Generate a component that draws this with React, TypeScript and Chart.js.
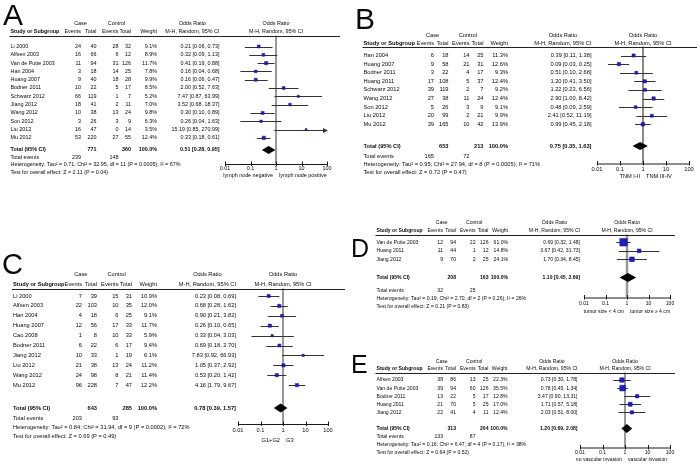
import React, { useEffect, useRef } from "react";
import { Chart, registerables } from "chart.js";

Chart.register(...registerables);

const W = 699;
const H = 466;
const FONT = '"Liberation Sans", Arial, Helvetica, sans-serif';

// ---------------- shared labels ----------------
const axisTicks = [0.01, 0.1, 1, 10, 100];
const axisTickLabels = ["0.01", "0.1", "1", "10", "100"];
const headerTop = ["Case", "Control", "Odds Ratio", "Odds Ratio"];
const headerCols = ["Study or Subgroup", "Events", "Total", "Events", "Total", "Weight", "M-H, Random, 95% CI", "M-H, Random, 95% CI"];

// ---------------- Panel A ----------------
const aStudies = ["Li 2000", "Alfsen 2003", "Van de Putte 2003", "Han 2004", "Huang 2007", "Bodner 2011", "Schwarz 2012", "Jiang 2012", "Wang 2012", "Son 2012", "Liu 2012", "Mu 2012"];
const aCaseEvents = [24, 16, 11, 3, 9, 10, 66, 18, 10, 3, 16, 53];
const aCaseTotal = [40, 66, 94, 18, 40, 22, 119, 41, 38, 26, 47, 220];
const aCtrlEvents = [28, 6, 31, 14, 18, 5, 1, 2, 13, 3, 0, 27];
const aCtrlTotal = [32, 12, 126, 25, 28, 17, 7, 11, 24, 9, 14, 55];
const aWeight = [9.1, 8.9, 11.7, 7.8, 9.9, 8.5, 5.2, 7.0, 9.8, 6.3, 3.5, 12.4];
const aOR = [0.21, 0.32, 0.41, 0.16, 0.16, 2.0, 7.47, 3.52, 0.3, 0.26, 15.19, 0.33];
const aLower = [0.06, 0.09, 0.19, 0.04, 0.06, 0.52, 0.87, 0.68, 0.1, 0.04, 0.85, 0.18];
const aUpper = [0.73, 1.13, 0.88, 0.68, 0.47, 7.63, 63.99, 18.37, 0.89, 1.63, 270.99, 0.61];
const aPooled = [0.51, 0.28, 0.95];
const aTotals = [771, 360];
const aTotalEvents = [239, 148];
const aHeterogeneity = "Heterogeneity: Tau\u00b2 = 0.71; Chi\u00b2 = 32.95, df = 11 (P = 0.0005); I\u00b2 = 67%";
const aOverall = "Test for overall effect: Z = 2.11 (P = 0.04)";
const aFavours = ["lymph node negative", "lymph node positive"];

// ---------------- Panel B ----------------
const bStudies = ["Han 2004", "Huang 2007", "Bodner 2011", "Huang 2011", "Schwarz 2012", "Wang 2012", "Son 2012", "Liu 2012", "Mu 2012"];
const bCaseEvents = [6, 9, 3, 17, 39, 27, 5, 20, 39];
const bCaseTotal = [18, 58, 22, 108, 119, 38, 26, 99, 165];
const bCtrlEvents = [14, 21, 4, 5, 2, 11, 3, 2, 10];
const bCtrlTotal = [25, 31, 17, 37, 7, 24, 9, 21, 42];
const bWeight = [11.3, 12.6, 9.3, 12.4, 9.2, 12.4, 9.1, 9.9, 13.9];
const bOR = [0.39, 0.09, 0.51, 1.2, 1.22, 2.9, 0.48, 2.41, 0.99];
const bLower = [0.11, 0.03, 0.1, 0.41, 0.23, 1.0, 0.09, 0.52, 0.45];
const bUpper = [1.38, 0.25, 2.68, 3.5, 6.56, 8.42, 2.59, 11.19, 2.18];
const bPooled = [0.75, 0.35, 1.63];
const bTotals = [653, 213];
const bTotalEvents = [165, 72];
const bHeterogeneity = "Heterogeneity: Tau\u00b2 = 0.95; Chi\u00b2 = 27.94, df = 8 (P = 0.0005); I\u00b2 = 71%";
const bOverall = "Test for overall effect: Z = 0.72 (P = 0.47)";
const bFavours = ["TNM I-II", "TNM III-IV"];

// ---------------- Panel C ----------------
const cStudies = ["Li 2000", "Alfsen 2003", "Han 2004", "Huang 2007", "Cao 2008", "Bodner 2011", "Jiang 2012", "Liu 2012", "Wang 2012", "Mu 2012"];
const cCaseEvents = [7, 22, 4, 12, 1, 6, 10, 21, 24, 96];
const cCaseTotal = [39, 103, 18, 56, 8, 22, 33, 38, 98, 228];
const cCtrlEvents = [15, 10, 6, 17, 10, 6, 1, 13, 8, 7];
const cCtrlTotal = [31, 35, 25, 33, 33, 17, 19, 24, 21, 47];
const cWeight = [10.9, 12.0, 9.1, 11.7, 5.9, 9.4, 6.1, 11.2, 11.4, 12.2];
const cOR = [0.23, 0.68, 0.9, 0.26, 0.33, 0.69, 7.83, 1.05, 0.53, 4.16];
const cLower = [0.08, 0.28, 0.21, 0.1, 0.04, 0.18, 0.92, 0.37, 0.2, 1.79];
const cUpper = [0.69, 1.62, 3.82, 0.65, 3.03, 2.7, 66.93, 2.92, 1.42, 9.67];
const cPooled = [0.78, 0.39, 1.57];
const cTotals = [643, 285];
const cTotalEvents = [203, 93];
const cHeterogeneity = "Heterogeneity: Tau\u00b2 = 0.84; Chi\u00b2 = 31.94, df = 9 (P = 0.0002); I\u00b2 = 72%";
const cOverall = "Test for overall effect: Z = 0.69 (P = 0.49)";
const cFavours = ["G1+G2", "G3"];

// ---------------- Panel D ----------------
const dStudies = ["Van de Putte 2003", "Huang 2011", "Jiang 2012"];
const dCaseEvents = [12, 11, 9];
const dCaseTotal = [94, 44, 70];
const dCtrlEvents = [22, 1, 2];
const dCtrlTotal = [126, 12, 25];
const dWeight = [61.0, 14.8, 24.1];
const dOR = [0.69, 3.67, 1.7];
const dLower = [0.32, 0.42, 0.34];
const dUpper = [1.48, 31.73, 8.45];
const dPooled = [1.1, 0.45, 2.69];
const dTotals = [208, 163];
const dTotalEvents = [32, 25];
const dHeterogeneity = "Heterogeneity: Tau\u00b2 = 0.19; Chi\u00b2 = 2.70, df = 2 (P = 0.26); I\u00b2 = 26%";
const dOverall = "Test for overall effect: Z = 0.21 (P = 0.83)";
const dFavours = ["tumor size < 4 cm", "tumor size \u2265 4 cm"];

// ---------------- Panel E ----------------
const eStudies = ["Alfsen 2003", "Van de Putte 2003", "Bodner 2011", "Huang 2011", "Jiang 2012"];
const eCaseEvents = [38, 39, 13, 21, 22];
const eCaseTotal = [86, 94, 22, 70, 41];
const eCtrlEvents = [13, 60, 5, 5, 4];
const eCtrlTotal = [25, 126, 17, 25, 11];
const eWeight = [22.3, 35.5, 12.8, 17.0, 12.4];
const eOR = [0.73, 0.78, 3.47, 1.71, 2.03];
const eLower = [0.3, 0.45, 0.9, 0.57, 0.51];
const eUpper = [1.78, 1.34, 13.31, 5.18, 8.0];
const ePooled = [1.2, 0.69, 2.08];
const eTotals = [313, 204];
const eTotalEvents = [133, 87];
const eHeterogeneity = "Heterogeneity: Tau\u00b2 = 0.16; Chi\u00b2 = 6.47, df = 4 (P = 0.17); I\u00b2 = 38%";
const eOverall = "Test for overall effect: Z = 0.64 (P = 0.52)";
const eFavours = ["no vascular invasion", "vascular invasion"];

// ---------------- layouts (positions only) ----------------
type Layout = {
  letterX: number; letterY: number; letterSize: number; fs: number;
  left: number; cEv: number; cTot: number; kEv: number; kTot: number; wt: number; ci: number; right: number;
  plotL: number; plotR: number;
  h1: number; h2: number; rule: number; row0: number; step: number; total: number;
  events: number; het: number; test: number; axis: number; tickY: number; capY: number;
  vColor: string; vWidth: number; dh: number;
};

const layoutA: Layout = { letterX: 3, letterY: 25, letterSize: 30, fs: 5.4, left: 10.5, cEv: 81, cTot: 96.5, kEv: 118.5, kTot: 131, wt: 157, ci: 219.5, right: 340, plotL: 225, plotR: 327, h1: 24, h2: 32, rule: 35.7, row0: 46.5, step: 8.3, total: 150, events: 157.5, het: 165, test: 172.5, axis: 164, tickY: 169, capY: 175.5, vColor: "#333", vWidth: 1, dh: 4 };
const layoutB: Layout = { letterX: 355, letterY: 29, letterSize: 30, fs: 5.7, left: 363.5, cEv: 434, cTot: 448.5, kEv: 469.5, kTot: 483.5, wt: 508, ci: 591.5, right: 697, plotL: 597, plotR: 689, h1: 35, h2: 43, rule: 46.5, row0: 55.5, step: 8.6, total: 146, events: 156, het: 164.5, test: 172.5, axis: 163.5, tickY: 169, capY: 176.5, vColor: "#8a8a8a", vWidth: 2, dh: 4 };
const layoutC: Layout = { letterX: 2, letterY: 274, letterSize: 29, fs: 5.7, left: 13, cEv: 82, cTot: 97, kEv: 118.5, kTot: 132, wt: 157, ci: 236, right: 345, plotL: 238, plotR: 328, h1: 274, h2: 284.5, rule: 288.5, row0: 296, step: 9.9, total: 408, events: 418.5, het: 427.5, test: 436, axis: 424, tickY: 430, capY: 440, vColor: "#333", vWidth: 1, dh: 4.5 };
const layoutD: Layout = { letterX: 351, letterY: 257, letterSize: 25, fs: 5.1, left: 376.5, cEv: 443, cTot: 456, kEv: 475.5, kTot: 488.5, wt: 508, ci: 580, right: 675, plotL: 584, plotR: 670, h1: 222.5, h2: 231, rule: 234.5, row0: 242.3, step: 8.5, total: 277.5, events: 290.5, het: 299, test: 307, axis: 297.5, tickY: 303.5, capY: 311.5, vColor: "#999", vWidth: 2.5, dh: 4.5 };
const layoutE: Layout = { letterX: 351, letterY: 373, letterSize: 25, fs: 5.1, left: 376.5, cEv: 443, cTot: 456, kEv: 475.5, kTot: 488.5, wt: 507.5, ci: 577.5, right: 675, plotL: 580, plotR: 670, h1: 361.7, h2: 369, rule: 372.5, row0: 380, step: 8.1, total: 428.5, events: 437, het: 445, test: 453, axis: 447.5, tickY: 453, capY: 459.5, vColor: "#999", vWidth: 2, dh: 4.5 };

type Panel = {
  id: string; studies: string[]; caseEv: number[]; caseTot: number[]; ctrlEv: number[]; ctrlTot: number[];
  weight: number[]; or: number[]; lo: number[]; hi: number[]; pooled: number[]; totals: number[];
  totalEvents: number[]; het: string; overall: string; favours: string[]; L: Layout;
};

const panels: Panel[] = [
  { id: "A", studies: aStudies, caseEv: aCaseEvents, caseTot: aCaseTotal, ctrlEv: aCtrlEvents, ctrlTot: aCtrlTotal, weight: aWeight, or: aOR, lo: aLower, hi: aUpper, pooled: aPooled, totals: aTotals, totalEvents: aTotalEvents, het: aHeterogeneity, overall: aOverall, favours: aFavours, L: layoutA },
  { id: "B", studies: bStudies, caseEv: bCaseEvents, caseTot: bCaseTotal, ctrlEv: bCtrlEvents, ctrlTot: bCtrlTotal, weight: bWeight, or: bOR, lo: bLower, hi: bUpper, pooled: bPooled, totals: bTotals, totalEvents: bTotalEvents, het: bHeterogeneity, overall: bOverall, favours: bFavours, L: layoutB },
  { id: "C", studies: cStudies, caseEv: cCaseEvents, caseTot: cCaseTotal, ctrlEv: cCtrlEvents, ctrlTot: cCtrlTotal, weight: cWeight, or: cOR, lo: cLower, hi: cUpper, pooled: cPooled, totals: cTotals, totalEvents: cTotalEvents, het: cHeterogeneity, overall: cOverall, favours: cFavours, L: layoutC },
  { id: "D", studies: dStudies, caseEv: dCaseEvents, caseTot: dCaseTotal, ctrlEv: dCtrlEvents, ctrlTot: dCtrlTotal, weight: dWeight, or: dOR, lo: dLower, hi: dUpper, pooled: dPooled, totals: dTotals, totalEvents: dTotalEvents, het: dHeterogeneity, overall: dOverall, favours: dFavours, L: layoutD },
  { id: "E", studies: eStudies, caseEv: eCaseEvents, caseTot: eCaseTotal, ctrlEv: eCtrlEvents, ctrlTot: eCtrlTotal, weight: eWeight, or: eOR, lo: eLower, hi: eUpper, pooled: ePooled, totals: eTotals, totalEvents: eTotalEvents, het: eHeterogeneity, overall: eOverall, favours: eFavours, L: layoutE },
];

const fmtCI = (m: number, l: number, h: number) => `${m.toFixed(2)} [${l.toFixed(2)}, ${h.toFixed(2)}]`;

function makePlugin(p: Panel) {
  const L = p.L;
  const totalRow = (L.total - L.row0) / L.step;
  return {
    id: "forest" + p.id,
    beforeDatasetsDraw(chart: any) {
      const ctx: CanvasRenderingContext2D = chart.ctx;
      const xs = chart.scales.x;
      const ys = chart.scales.y;
      const area = chart.chartArea;
      ctx.save();
      // line of no effect
      const x1 = xs.getPixelForValue(1);
      ctx.strokeStyle = L.vColor;
      ctx.lineWidth = L.vWidth;
      ctx.beginPath();
      ctx.moveTo(x1, area.top);
      ctx.lineTo(x1, area.bottom);
      ctx.stroke();
      // x axis
      const ay = area.bottom + 0.5;
      ctx.strokeStyle = "#1a1a1a";
      ctx.lineWidth = 1;
      ctx.beginPath();
      ctx.moveTo(xs.getPixelForValue(axisTicks[0]), ay);
      ctx.lineTo(xs.getPixelForValue(axisTicks[axisTicks.length - 1]), ay);
      ctx.stroke();
      axisTicks.forEach((t) => {
        const tx = Math.round(xs.getPixelForValue(t)) + 0.5;
        ctx.beginPath();
        ctx.moveTo(tx, ay - 3);
        ctx.lineTo(tx, ay + 1.5);
        ctx.stroke();
      });
      // confidence intervals
      ctx.strokeStyle = "#333";
      ctx.fillStyle = "#333";
      ctx.lineWidth = 1;
      p.or.forEach((_, i) => {
        const yy = Math.round(ys.getPixelForValue(i)) + 0.5;
        const lo = Math.max(p.lo[i], xs.min);
        const hi = Math.min(p.hi[i], xs.max);
        const xl = xs.getPixelForValue(lo);
        const xr = xs.getPixelForValue(hi);
        ctx.beginPath();
        ctx.moveTo(xl, yy);
        ctx.lineTo(xr, yy);
        ctx.stroke();
        if (p.hi[i] > xs.max) {
          ctx.beginPath();
          ctx.moveTo(xr + 1, yy);
          ctx.lineTo(xr - 4, yy - 2.5);
          ctx.lineTo(xr - 4, yy + 2.5);
          ctx.closePath();
          ctx.fill();
        }
        if (p.lo[i] < xs.min) {
          ctx.beginPath();
          ctx.moveTo(xl - 1, yy);
          ctx.lineTo(xl + 4, yy - 2.5);
          ctx.lineTo(xl + 4, yy + 2.5);
          ctx.closePath();
          ctx.fill();
        }
      });
      // pooled diamond
      const ty = ys.getPixelForValue(totalRow);
      const [pe, pl, ph] = p.pooled;
      ctx.fillStyle = "#000";
      ctx.beginPath();
      ctx.moveTo(xs.getPixelForValue(pl), ty);
      ctx.lineTo(xs.getPixelForValue(pe), ty - L.dh);
      ctx.lineTo(xs.getPixelForValue(ph), ty);
      ctx.lineTo(xs.getPixelForValue(pe), ty + L.dh);
      ctx.closePath();
      ctx.fill();
      ctx.restore();
    },
    afterDatasetsDraw(chart: any) {
      const ctx: CanvasRenderingContext2D = chart.ctx;
      const xs = chart.scales.x;
      const ys = chart.scales.y;
      const x1 = xs.getPixelForValue(1);
      ctx.save();
      ctx.fillStyle = "#0a0a0a";
      ctx.textBaseline = "middle";
      const txt = (s: string, x: number, y: number, align: CanvasTextAlign, bold = false) => {
        ctx.font = `${bold ? "bold " : ""}${L.fs}px ${FONT}`;
        ctx.textAlign = align;
        ctx.fillText(s, x, y);
      };
      // panel letter
      ctx.font = `${L.letterSize}px ${FONT}`;
      ctx.textAlign = "left";
      ctx.textBaseline = "alphabetic";
      ctx.fillText(p.id, L.letterX, L.letterY);
      ctx.textBaseline = "middle";

      // header rows
      ctx.font = `${L.fs}px ${FONT}`;
      const wEv = ctx.measureText(headerCols[1]).width;
      const wMH = ctx.measureText(headerCols[6]).width;
      txt(headerTop[0], (L.cEv - wEv + L.cTot) / 2, L.h1, "center");
      txt(headerTop[1], (L.kEv - wEv + L.kTot) / 2, L.h1, "center");
      txt(headerTop[2], L.ci - wMH / 2, L.h1, "center");
      txt(headerTop[3], x1, L.h1, "center");
      txt(headerCols[0], L.left, L.h2, "left", true);
      txt(headerCols[1], L.cEv, L.h2, "right");
      txt(headerCols[2], L.cTot, L.h2, "right");
      txt(headerCols[3], L.kEv, L.h2, "right");
      txt(headerCols[4], L.kTot, L.h2, "right");
      txt(headerCols[5], L.wt, L.h2, "right");
      txt(headerCols[6], L.ci, L.h2, "right");
      txt(headerCols[7], x1, L.h2, "center");
      // rule under the header
      ctx.strokeStyle = "#222";
      ctx.lineWidth = 1;
      ctx.beginPath();
      ctx.moveTo(L.left - 1, Math.round(L.rule) + 0.5);
      ctx.lineTo(L.right, Math.round(L.rule) + 0.5);
      ctx.stroke();

      // study rows
      p.studies.forEach((s, i) => {
        const yy = ys.getPixelForValue(i);
        txt(s, L.left, yy, "left");
        txt(String(p.caseEv[i]), L.cEv, yy, "right");
        txt(String(p.caseTot[i]), L.cTot, yy, "right");
        txt(String(p.ctrlEv[i]), L.kEv, yy, "right");
        txt(String(p.ctrlTot[i]), L.kTot, yy, "right");
        txt(p.weight[i].toFixed(1) + "%", L.wt, yy, "right");
        txt(fmtCI(p.or[i], p.lo[i], p.hi[i]), L.ci, yy, "right");
      });
      // total row
      const ty = ys.getPixelForValue(totalRow);
      txt("Total (95% CI)", L.left, ty, "left", true);
      txt(String(p.totals[0]), L.cTot, ty, "right", true);
      txt(String(p.totals[1]), L.kTot, ty, "right", true);
      txt("100.0%", L.wt, ty, "right", true);
      txt(fmtCI(p.pooled[0], p.pooled[1], p.pooled[2]), L.ci, ty, "right", true);
      // total events and statistics
      txt("Total events", L.left, L.events, "left");
      txt(String(p.totalEvents[0]), L.cEv, L.events, "right");
      txt(String(p.totalEvents[1]), L.kEv, L.events, "right");
      txt(p.het, L.left, L.het, "left");
      txt(p.overall, L.left, L.test, "left");
      // axis labels
      axisTicks.forEach((t, k) => {
        txt(axisTickLabels[k], xs.getPixelForValue(t), L.tickY, "center");
      });
      txt(p.favours[0], x1 - 3, L.capY, "right");
      txt(p.favours[1], x1 + 3, L.capY, "left");
      ctx.restore();
    },
  };
}

function ForestCanvas({ panel }: { panel: Panel }) {
  const ref = useRef<HTMLCanvasElement | null>(null);
  useEffect(() => {
    const canvas = ref.current;
    if (!canvas) return;
    const L = panel.L;
    const yMin = (L.rule - L.row0) / L.step;
    const yMax = (L.axis - L.row0) / L.step;
    const chart = new Chart(canvas, {
      type: "scatter",
      data: {
        datasets: [
          {
            label: panel.id,
            data: panel.or.map((v, i) => ({ x: v, y: i })),
            pointStyle: "rect",
            pointRadius: panel.weight.map((w) => (0.95 * Math.sqrt(w)) / 1.414),
            pointBackgroundColor: "#1d1dc4",
            pointBorderColor: "#14148a",
            pointBorderWidth: 0.5,
            showLine: false,
          },
        ],
      },
      options: {
        responsive: false,
        maintainAspectRatio: false,
        animation: false,
        events: [],
        layout: { padding: { left: L.plotL, right: W - L.plotR, top: L.rule, bottom: H - L.axis } },
        scales: {
          x: { type: "logarithmic", min: 0.01, max: 100, display: false },
          y: { type: "linear", reverse: true, min: yMin, max: yMax, display: false },
        },
        plugins: { legend: { display: false }, tooltip: { enabled: false }, title: { display: false } },
      },
      plugins: [makePlugin(panel)],
    } as any);
    return () => chart.destroy();
  }, [panel]);
  return (
    <canvas
      ref={ref}
      width={W}
      height={H}
      style={{ position: "absolute", left: 0, top: 0, width: W, height: H }}
    />
  );
}

export default function App() {
  return (
    <div style={{ position: "fixed", left: 0, top: 0, width: W, height: H, background: "#fff", overflow: "hidden" }}>
      {panels.map((p) => (
        <ForestCanvas key={p.id} panel={p} />
      ))}
    </div>
  );
}
